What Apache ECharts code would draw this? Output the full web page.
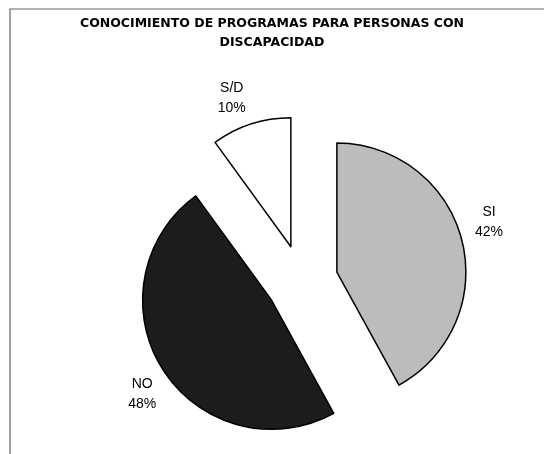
<!DOCTYPE html>
<html><head><meta charset="utf-8">
<script src="https://cdn.jsdelivr.net/npm/echarts@6/dist/echarts.min.js"></script>
<style>html,body{margin:0;padding:0;background:#fff}#c{width:544px;height:454px}</style>
</head><body><div id="c"></div>
<script>
const categories = ['SI', 'NO', 'S/D'];
const values = [42, 48, 10];
const colors = ['#bcbcbc', '#1c1c1c', '#ffffff'];
const titleText = 'CONOCIMIENTO DE PROGRAMAS PARA PERSONAS CON\nDISCAPACIDAD';

const chart = echarts.init(document.getElementById('c'), null, {renderer: 'canvas'});
const center = [302, 281];
const offset = 36;
const mk = (fill) => categories.map((n, i) => ({
  name: n, value: values[i], selected: true,
  itemStyle: fill ? {color: colors[i]} : {color: 'rgba(0,0,0,0)', borderWidth: 0}
}));
const option = {
  animation: false,
  backgroundColor: '#fff',
  title: {
    text: titleText, left: 'center', top: 9,
    textStyle: {fontFamily: 'DejaVu Sans', fontWeight: 'bold', fontSize: 12.5, lineHeight: 19, color: '#000'}
  },
  graphic: [{type: 'rect', silent: true, shape: {x: 10, y: 9, width: 600, height: 500},
    style: {fill: 'none', stroke: '#666', lineWidth: 1.2}}],
  series: [
    {
      type: 'pie', center: center, radius: 129, startAngle: 90, clockwise: true,
      selectedMode: 'multiple', selectedOffset: offset, avoidLabelOverlap: false,
      itemStyle: {borderColor: '#000', borderWidth: 1.5},
      label: {show: false}, labelLine: {show: false},
      emphasis: {disabled: true},
      data: mk(true)
    },
    {
      type: 'pie', center: center, radius: [146, 168], startAngle: 93, clockwise: true,
      selectedMode: 'multiple', selectedOffset: offset, avoidLabelOverlap: false,
      silent: true,
      label: {show: true, position: 'inside', formatter: '{b}\n{d}%', fontSize: 14, lineHeight: 20,
        color: '#000', fontFamily: 'Liberation Sans'},
      labelLine: {show: false},
      emphasis: {disabled: true},
      data: mk(false)
    }
  ]
};
chart.setOption(option);
</script>
</body></html>
